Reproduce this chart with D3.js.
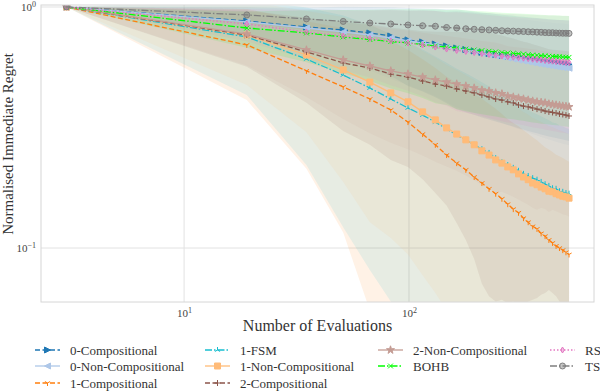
<!DOCTYPE html>
<html>
<head>
<meta charset="utf-8">
<script src="https://cdn.jsdelivr.net/npm/d3@7"></script>
<style>
  body { margin: 0; background: #fff; }
  text { font-family: "Liberation Serif", "DejaVu Serif", serif; }
</style>
</head>
<body>
<svg id="chart" width="600" height="392"></svg>
<script>
// evaluation grid (a point every 16 evaluations)
var evals = [3,19,35,51,67,83,99,115,131,147,163,179,195,211,227,243,259,275,291,307,323,339,355,371,387,403,419,435,451,467,483,499,515];

// mean normalised regret and its std, one pair per method
var comp0Mean = [1.0,0.875,0.826,0.803,0.780,0.758,0.730,0.716,0.702,0.689,0.676,0.666,0.657,0.648,0.641,0.635,0.629,0.624,0.619,0.614,0.610,0.606,0.602,0.599,0.596,0.593,0.590,0.588,0.586,0.584,0.582,0.580,0.578];
var comp0Std = [0,0.12,0.17,0.2,0.22,0.24,0.26,0.27,0.28,0.29,0.3,0.3,0.3,0.3,0.3,0.3,0.3,0.3,0.3,0.3,0.3,0.3,0.3,0.3,0.3,0.3,0.3,0.3,0.3,0.3,0.3,0.3,0.3];
var nonComp0Mean = [1.0,0.867,0.818,0.788,0.765,0.744,0.723,0.709,0.696,0.682,0.673,0.663,0.654,0.644,0.636,0.628,0.621,0.614,0.608,0.602,0.597,0.592,0.587,0.583,0.579,0.575,0.572,0.569,0.566,0.563,0.561,0.559,0.557];
var nonComp0Std = [0,0.12,0.17,0.2,0.22,0.24,0.25,0.26,0.27,0.28,0.29,0.29,0.29,0.29,0.29,0.29,0.29,0.29,0.29,0.29,0.29,0.29,0.29,0.29,0.29,0.29,0.29,0.29,0.29,0.29,0.29,0.29,0.29];
var comp1Mean = [1.0,0.696,0.543,0.466,0.415,0.374,0.333,0.297,0.268,0.243,0.225,0.211,0.197,0.186,0.176,0.168,0.160,0.152,0.145,0.140,0.133,0.128,0.123,0.120,0.115,0.112,0.108,0.105,0.102,0.100,0.098,0.096,0.094];
var comp1Std = [0,0.285,0.33,0.35,0.36,0.35,0.33,0.31,0.29,0.27,0.26,0.25,0.24,0.23,0.22,0.21,0.2,0.19,0.185,0.18,0.175,0.17,0.165,0.16,0.155,0.15,0.148,0.145,0.142,0.14,0.138,0.136,0.134];
var fsm1Mean = [1.0,0.751,0.608,0.522,0.461,0.415,0.381,0.356,0.333,0.312,0.294,0.281,0.268,0.257,0.248,0.236,0.227,0.221,0.215,0.209,0.203,0.199,0.195,0.192,0.188,0.184,0.181,0.177,0.176,0.172,0.171,0.169,0.168];
var fsm1Std = [0,0.32,0.387,0.40,0.38,0.355,0.33,0.31,0.29,0.275,0.26,0.25,0.24,0.23,0.22,0.21,0.2,0.195,0.19,0.185,0.18,0.175,0.17,0.167,0.164,0.161,0.158,0.155,0.153,0.15,0.148,0.146,0.144];
var nonComp1Mean = [1.0,0.765,0.632,0.548,0.488,0.440,0.404,0.367,0.340,0.315,0.297,0.281,0.268,0.253,0.243,0.232,0.225,0.217,0.211,0.203,0.197,0.192,0.186,0.183,0.179,0.176,0.172,0.171,0.168,0.166,0.164,0.163,0.161];
var nonComp1Std = [0,0.29,0.33,0.36,0.36,0.33,0.31,0.29,0.275,0.26,0.25,0.24,0.23,0.22,0.21,0.2,0.19,0.185,0.18,0.175,0.17,0.165,0.16,0.157,0.154,0.151,0.148,0.146,0.144,0.142,0.14,0.138,0.136];
var comp2Mean = [1.0,0.765,0.651,0.586,0.558,0.527,0.512,0.493,0.479,0.470,0.457,0.448,0.440,0.431,0.423,0.415,0.411,0.404,0.400,0.392,0.388,0.385,0.381,0.377,0.374,0.370,0.367,0.365,0.363,0.360,0.358,0.356,0.353];
var comp2Std = [0,0.2,0.25,0.28,0.29,0.295,0.295,0.3,0.31,0.32,0.33,0.34,0.35,0.36,0.36,0.355,0.35,0.345,0.34,0.335,0.33,0.325,0.32,0.315,0.31,0.305,0.3,0.3,0.3,0.3,0.3,0.3,0.3];
var nonComp2Mean = [1.0,0.772,0.663,0.603,0.569,0.543,0.527,0.512,0.498,0.488,0.479,0.470,0.461,0.452,0.448,0.440,0.436,0.427,0.423,0.419,0.415,0.411,0.407,0.404,0.402,0.400,0.396,0.394,0.392,0.390,0.388,0.387,0.385];
var nonComp2Std = [0,0.2,0.24,0.26,0.27,0.27,0.27,0.27,0.27,0.27,0.27,0.27,0.27,0.27,0.27,0.27,0.265,0.26,0.26,0.26,0.26,0.26,0.26,0.26,0.255,0.255,0.255,0.25,0.25,0.25,0.25,0.25,0.25];
var bohbMean = [1.0,0.818,0.780,0.751,0.733,0.719,0.709,0.699,0.689,0.682,0.676,0.669,0.663,0.659,0.655,0.651,0.647,0.644,0.642,0.639,0.637,0.634,0.632,0.630,0.628,0.627,0.625,0.624,0.623,0.622,0.620,0.619,0.618];
var bohbStd = [0,0.14,0.19,0.22,0.24,0.26,0.27,0.28,0.29,0.29,0.3,0.3,0.3,0.3,0.3,0.3,0.3,0.3,0.3,0.3,0.3,0.3,0.3,0.3,0.3,0.3,0.3,0.3,0.3,0.3,0.3,0.3,0.3];
var rsMean = [1.0,0.850,0.788,0.758,0.740,0.723,0.709,0.696,0.682,0.669,0.660,0.654,0.647,0.641,0.635,0.631,0.626,0.622,0.619,0.616,0.613,0.610,0.607,0.605,0.603,0.600,0.598,0.596,0.594,0.592,0.591,0.589,0.588];
var rsStd = [0,0.13,0.18,0.21,0.23,0.25,0.26,0.27,0.28,0.28,0.29,0.29,0.29,0.29,0.29,0.29,0.29,0.29,0.29,0.29,0.29,0.29,0.29,0.29,0.29,0.29,0.29,0.29,0.29,0.29,0.29,0.29,0.29];
var tsMean = [1.0,0.927,0.892,0.871,0.858,0.850,0.842,0.836,0.832,0.822,0.818,0.812,0.808,0.805,0.803,0.800,0.797,0.795,0.794,0.792,0.791,0.789,0.788,0.786,0.785,0.783,0.782,0.782,0.780,0.779,0.778,0.778,0.777];
var tsStd = [0,0.07,0.09,0.1,0.11,0.12,0.12,0.13,0.13,0.13,0.14,0.14,0.14,0.14,0.14,0.14,0.14,0.14,0.14,0.14,0.14,0.14,0.14,0.14,0.14,0.14,0.14,0.14,0.14,0.14,0.14,0.14,0.14];

var xTicks = [10, 100];
var yTicks = [0.1, 1];

// styling per method (legend order)
var series = [
    {name: "0-Compositional",     mean: comp0Mean,    std: comp0Std,    color: "#1f77b4", dash: "5,2.5",       marker: ">"},
    {name: "0-Non-Compositional", mean: nonComp0Mean, std: nonComp0Std, color: "#aec7e8", dash: null,          marker: "<"},
    {name: "1-Compositional",     mean: comp1Mean,    std: comp1Std,    color: "#ff7f0e", dash: "5,2.5",       marker: "1"},
    {name: "1-FSM",               mean: fsm1Mean,     std: fsm1Std,     color: "#17becf", dash: "7,2,1.5,2",   marker: "2"},
    {name: "1-Non-Compositional", mean: nonComp1Mean, std: nonComp1Std, color: "#ffbb78", dash: null,          marker: "s"},
    {name: "2-Compositional",     mean: comp2Mean,    std: comp2Std,    color: "#8c564b", dash: "5,2.5",       marker: "+"},
    {name: "2-Non-Compositional", mean: nonComp2Mean, std: nonComp2Std, color: "#c49c94", dash: null,          marker: "*"},
    {name: "BOHB",                mean: bohbMean,     std: bohbStd,     color: "#00ff00", dash: "7,2,1.5,2",   marker: "x"},
    {name: "RS",                  mean: rsMean,       std: rsStd,       color: "#e377c2", dash: "1.5,2",       marker: "d"},
    {name: "TS",                  mean: tsMean,       std: tsStd,       color: "#7f7f7f", dash: "7,2,1.5,2",   marker: "o"}
];

var margin = {top: 5, right: 6, bottom: 90, left: 41},
    width = 600, height = 392;

var svg = d3.select("#chart");

var x = d3.scaleLog().domain([2.31, 665]).range([margin.left, width - margin.right]);
var y = d3.scaleLog().domain([0.0597, 1.019]).range([height - margin.bottom, margin.top]);

svg.append("clipPath").attr("id", "plotclip")
    .append("rect")
    .attr("x", margin.left).attr("y", margin.top)
    .attr("width", width - margin.left - margin.right)
    .attr("height", height - margin.top - margin.bottom);

// grid lines
svg.append("g").selectAll("line").data(xTicks).enter().append("line")
    .attr("x1", function(d) { return x(d); }).attr("x2", function(d) { return x(d); })
    .attr("y1", margin.top).attr("y2", height - margin.bottom)
    .attr("stroke", "#e2e2e2").attr("stroke-width", 1);
svg.append("g").selectAll("line").data(yTicks).enter().append("line")
    .attr("y1", function(d) { return y(d); }).attr("y2", function(d) { return y(d); })
    .attr("x1", margin.left).attr("x2", width - margin.right)
    .attr("stroke", "#e2e2e2").attr("stroke-width", 1);

// std bands
var band = d3.area()
    .x(function(d) { return x(d.x); })
    .y0(function(d) { return y(Math.max(d.lo, 0.02)); })
    .y1(function(d) { return y(Math.min(d.hi, 2)); });

var bands = svg.append("g").attr("clip-path", "url(#plotclip)");
series.forEach(function(s) {
    var pts = evals.map(function(e, i) {
        return {x: e, lo: s.mean[i] - s.std[i], hi: s.mean[i] + s.std[i]};
    });
    bands.append("path").datum(pts)
        .attr("d", band)
        .attr("fill", s.color)
        .attr("fill-opacity", 0.1)
        .attr("stroke", "none");
});

// marker shapes, centred on 0,0
function markerPath(t, r) {
    var c = 0.866 * r, h = 0.5 * r;
    switch (t) {
        case ">": return "M" + (-r) + "," + (-r) + "L" + r + ",0L" + (-r) + "," + r + "Z";
        case "<": return "M" + r + "," + (-r) + "L" + (-r) + ",0L" + r + "," + r + "Z";
        case "s": return "M" + (-r) + "," + (-r) + "H" + r + "V" + r + "H" + (-r) + "Z";
        case "+": return "M" + (-r) + ",0H" + r + "M0," + (-r) + "V" + r;
        case "x": return "M" + (-r*0.8) + "," + (-r*0.8) + "L" + (r*0.8) + "," + (r*0.8) + "M" + (-r*0.8) + "," + (r*0.8) + "L" + (r*0.8) + "," + (-r*0.8);
        case "1": return "M0,0V" + r + "M0,0L" + (-c) + "," + (-h) + "M0,0L" + c + "," + (-h);
        case "2": return "M0,0V" + (-r) + "M0,0L" + (-c) + "," + h + "M0,0L" + c + "," + h;
        case "d": return "M0," + (-r) + "L" + (r*0.6) + ",0L0," + r + "L" + (-r*0.6) + ",0Z";
        case "*": return d3.symbol(d3.symbolStar, r * r * 2.2)();
        case "o": return d3.symbol(d3.symbolCircle, r * r * 3.1)();
    }
}
var openMarkers = ["+", "x", "1", "2"];

function drawMarker(g, s, px, py) {
    var open = openMarkers.indexOf(s.marker) >= 0;
    g.append("path")
        .attr("d", markerPath(s.marker, 3))
        .attr("transform", "translate(" + px + "," + py + ")")
        .attr("fill", open ? "none" : s.color)
        .attr("fill-opacity", s.marker == "o" || s.marker == "d" ? 0.45 : 1)
        .attr("stroke", s.color)
        .attr("stroke-width", 1);
}

// mean lines with markers
var line = d3.line()
    .x(function(d) { return x(d.x); })
    .y(function(d) { return y(d.v); });

var lines = svg.append("g").attr("clip-path", "url(#plotclip)");
series.forEach(function(s) {
    var pts = evals.map(function(e, i) { return {x: e, v: s.mean[i]}; });
    var g = lines.append("g");
    g.append("path").datum(pts)
        .attr("d", line)
        .attr("fill", "none")
        .attr("stroke", s.color)
        .attr("stroke-width", 1.3)
        .attr("stroke-dasharray", s.dash);
    pts.forEach(function(p) { drawMarker(g, s, x(p.x), y(p.v)); });
});

// frame
svg.append("rect")
    .attr("x", margin.left).attr("y", margin.top)
    .attr("width", width - margin.left - margin.right)
    .attr("height", height - margin.top - margin.bottom)
    .attr("fill", "none").attr("stroke", "#d6d6d6").attr("stroke-width", 1);

// axes: power-of-ten labels with superscripts
function powerLabel(sel) {
    sel.each(function(d) {
        var t = d3.select(this), p = Math.round(Math.log10(d));
        t.text("10");
        t.append("tspan").attr("dy", "-0.45em").attr("font-size", "8px")
            .text(p < 0 ? "\u2212" + (-p) : p);
    });
}

var xAxis = svg.append("g")
    .attr("transform", "translate(0," + (height - margin.bottom) + ")")
    .call(d3.axisBottom(x).tickValues(xTicks).tickSize(0).tickPadding(7));
xAxis.select(".domain").remove();
xAxis.selectAll("text").attr("font-size", "11px").attr("fill", "#444")
    .attr("font-family", "Liberation Serif").call(powerLabel);

var yAxis = svg.append("g")
    .attr("transform", "translate(" + margin.left + ",0)")
    .call(d3.axisLeft(y).tickValues(yTicks).tickSize(0).tickPadding(5));
yAxis.select(".domain").remove();
yAxis.selectAll("text").attr("font-size", "11px").attr("fill", "#444")
    .attr("font-family", "Liberation Serif").call(powerLabel);

// axis titles
svg.append("text")
    .attr("x", (margin.left + width - margin.right) / 2)
    .attr("y", 331)
    .attr("text-anchor", "middle")
    .attr("font-size", "16px").attr("fill", "#333")
    .text("Number of Evaluations");

svg.append("text")
    .attr("transform", "translate(13,144) rotate(-90)")
    .attr("text-anchor", "middle")
    .attr("font-size", "15px").attr("fill", "#333")
    .text("Normalised Immediate Regret");

// legend, 4 columns below the plot
var legendCols = [35, 205, 378, 550];
var legendRows = [350, 366, 383];
var colOf = [0, 0, 0, 1, 1, 1, 2, 2, 3, 3];
var rowOf = [0, 1, 2, 0, 1, 2, 0, 1, 0, 1];

var legend = svg.append("g");
series.forEach(function(s, i) {
    var lx = legendCols[colOf[i]], ly = legendRows[rowOf[i]];
    var g = legend.append("g");
    g.append("line")
        .attr("x1", lx).attr("x2", lx + 25)
        .attr("y1", ly).attr("y2", ly)
        .attr("stroke", s.color).attr("stroke-width", 1.3)
        .attr("stroke-dasharray", s.dash);
    drawMarker(g, s, lx + 12.5, ly);
    g.append("text")
        .attr("x", lx + 35).attr("y", ly).attr("dy", "0.35em")
        .attr("font-family", "Liberation Serif")
        .attr("font-size", "13px").attr("fill", "#333")
        .text(s.name);
});
</script>
</body>
</html>
